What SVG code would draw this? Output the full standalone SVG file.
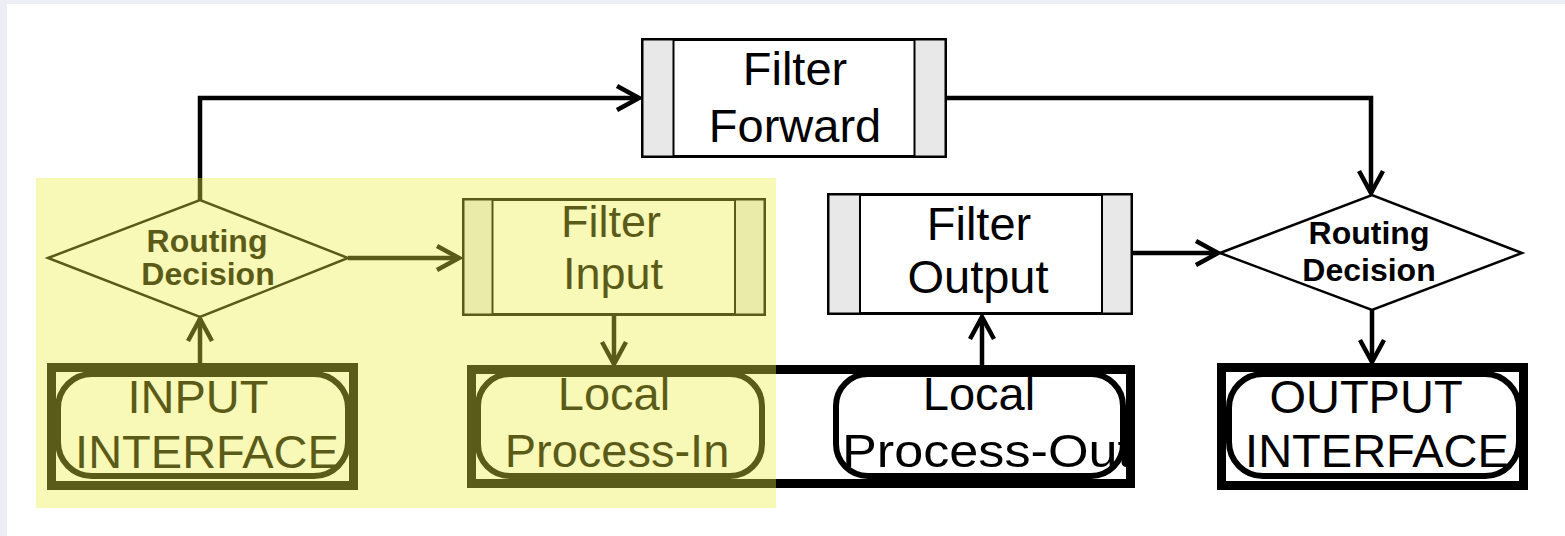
<svg xmlns="http://www.w3.org/2000/svg" width="1565" height="536" viewBox="0 0 1565 536">
  <style>
    .lbl { font-family: "Liberation Sans", Arial, sans-serif; font-size: 47px; fill: #000; text-anchor: middle; }
    .dec { font-family: "Liberation Sans", Arial, sans-serif; font-size: 32px; font-weight: bold; fill: #000; text-anchor: middle; }
    .box { fill: #fff; stroke: #000; stroke-width: 3; }
    .bar { fill: #e8e8e8; stroke: #000; stroke-width: 2; }
    .dia { fill: #fff; stroke: #000; stroke-width: 2.5; }
    .frame { fill: none; stroke: #000; stroke-width: 9; }
    .ifill { fill: #fff; }
    .pill { fill: #fff; stroke: #000; stroke-width: 6; }
    .conn { fill: none; stroke: #000; stroke-width: 4.5; marker-end: url(#arr); }
    .conn-grey { fill: none; stroke: #c8c8c8; stroke-width: 3; marker-end: url(#arrg); }
  </style>
  <defs>
    <marker id="arr" markerUnits="userSpaceOnUse" viewBox="-26 -14 30 28" refX="0" refY="0" markerWidth="30" markerHeight="28" orient="auto" overflow="visible">
      <path d="M-22,-12 L0,0 L-22,12" fill="none" stroke="#000" stroke-width="4.5"/>
    </marker>
    <marker id="arrg" markerUnits="userSpaceOnUse" viewBox="-26 -14 30 28" refX="0" refY="0" markerWidth="30" markerHeight="28" orient="auto" overflow="visible">
      <path d="M-18,-10 L0,0 L-18,10" fill="none" stroke="#c8c8c8" stroke-width="3"/>
    </marker>
  </defs>

  <rect x="0" y="0" width="1565" height="536" fill="#ededf5"/>
  <rect x="7" y="4" width="1558" height="532" fill="#fff"/>

  <g id="connectors">
    <path class="conn" d="M200,200 V98 H639"/>
    <path class="conn" d="M947,98 H1371 V193"/>
    <path class="conn" d="M348,258 H459"/>
    <path class="conn" d="M614,316 V364"/>
    <path class="conn-grey" d="M767,425 H831"/>
    <path class="conn" d="M982,365 V317"/>
    <path class="conn" d="M1133,253 H1218"/>
    <path class="conn" d="M1372,310 V362"/>
    <path class="conn" d="M200,363 V319"/>
  </g>

  <g id="filter-forward">
    <rect class="box" x="642.5" y="39.5" width="303" height="117"/>
    <rect class="bar" x="642.5" y="39.5" width="31" height="117"/>
    <rect class="bar" x="914.5" y="39.5" width="31" height="117"/>
    <text class="lbl" x="795" y="85">Filter</text>
    <text class="lbl" x="795" y="142">Forward</text>
  </g>

  <g id="routing-decision-in">
    <polygon class="dia" points="48,258 200,200 348,258 200,317"/>
    <text class="dec" x="207" y="252">Routing</text>
    <text class="dec" x="208" y="285">Decision</text>
  </g>

  <g id="filter-input">
    <rect class="box" x="463.5" y="199.5" width="301" height="115"/>
    <rect class="bar" x="463.5" y="199.5" width="29" height="115"/>
    <rect class="bar" x="735" y="199.5" width="29.5" height="115"/>
    <text class="lbl" x="611" y="237" style="font-size:45px">Filter</text>
    <text class="lbl" x="613" y="289" style="font-size:45px">Input</text>
  </g>

  <g id="filter-output">
    <rect class="box" x="828.5" y="194.5" width="303" height="119"/>
    <rect class="bar" x="828.5" y="194.5" width="31.5" height="119"/>
    <rect class="bar" x="1102" y="194.5" width="29.5" height="119"/>
    <text class="lbl" x="979" y="240">Filter</text>
    <text class="lbl" x="978" y="293">Output</text>
  </g>

  <g id="routing-decision-out">
    <polygon class="dia" points="1220,253 1372,195 1522,253 1372,310"/>
    <text class="dec" x="1369" y="244">Routing</text>
    <text class="dec" x="1369" y="281">Decision</text>
  </g>

  <g id="input-interface">
    <rect class="ifill" x="51.5" y="367.5" width="302" height="118"/>
    <rect class="pill" x="58" y="374" width="290" height="102" rx="34"/>
    <text class="lbl" x="198" y="413">INPUT</text>
    <text class="lbl" x="207" y="468">INTERFACE</text>
    <rect class="frame" x="51.5" y="367.5" width="302" height="118"/>
  </g>

  <g id="local-process-in">
    <rect class="ifill" x="471.5" y="369.5" width="330" height="114"/>
    <rect class="pill" x="478" y="374" width="284" height="102" rx="32"/>
    <text class="lbl" x="614" y="410">Local</text>
    <text class="lbl" x="617" y="467">Process-In</text>
    <path class="frame" d="M801,369.5 H471.5 V483.5 H801"/>
  </g>

  <g id="local-process-out">
    <rect class="ifill" x="801" y="369.5" width="329.5" height="114"/>
    <rect class="pill" x="836" y="374" width="287" height="102" rx="32"/>
    <text class="lbl" x="979" y="410">Local</text>
    <text class="lbl" x="842" y="467" textLength="290" lengthAdjust="spacingAndGlyphs" style="text-anchor:start">Process-Out</text>
    <path class="frame" d="M800,369.5 H1130.5 V483.5 H800"/>
  </g>

  <g id="output-interface">
    <rect class="ifill" x="1221.5" y="367.5" width="302" height="118"/>
    <rect class="pill" x="1229" y="374" width="290" height="102" rx="34"/>
    <text class="lbl" x="1366" y="413">OUTPUT</text>
    <text class="lbl" x="1377" y="467">INTERFACE</text>
    <rect class="frame" x="1221.5" y="367.5" width="302" height="118"/>
  </g>

  <rect id="highlight" x="36" y="178" width="740" height="330" fill="#eded42" opacity="0.38"/>
</svg>
